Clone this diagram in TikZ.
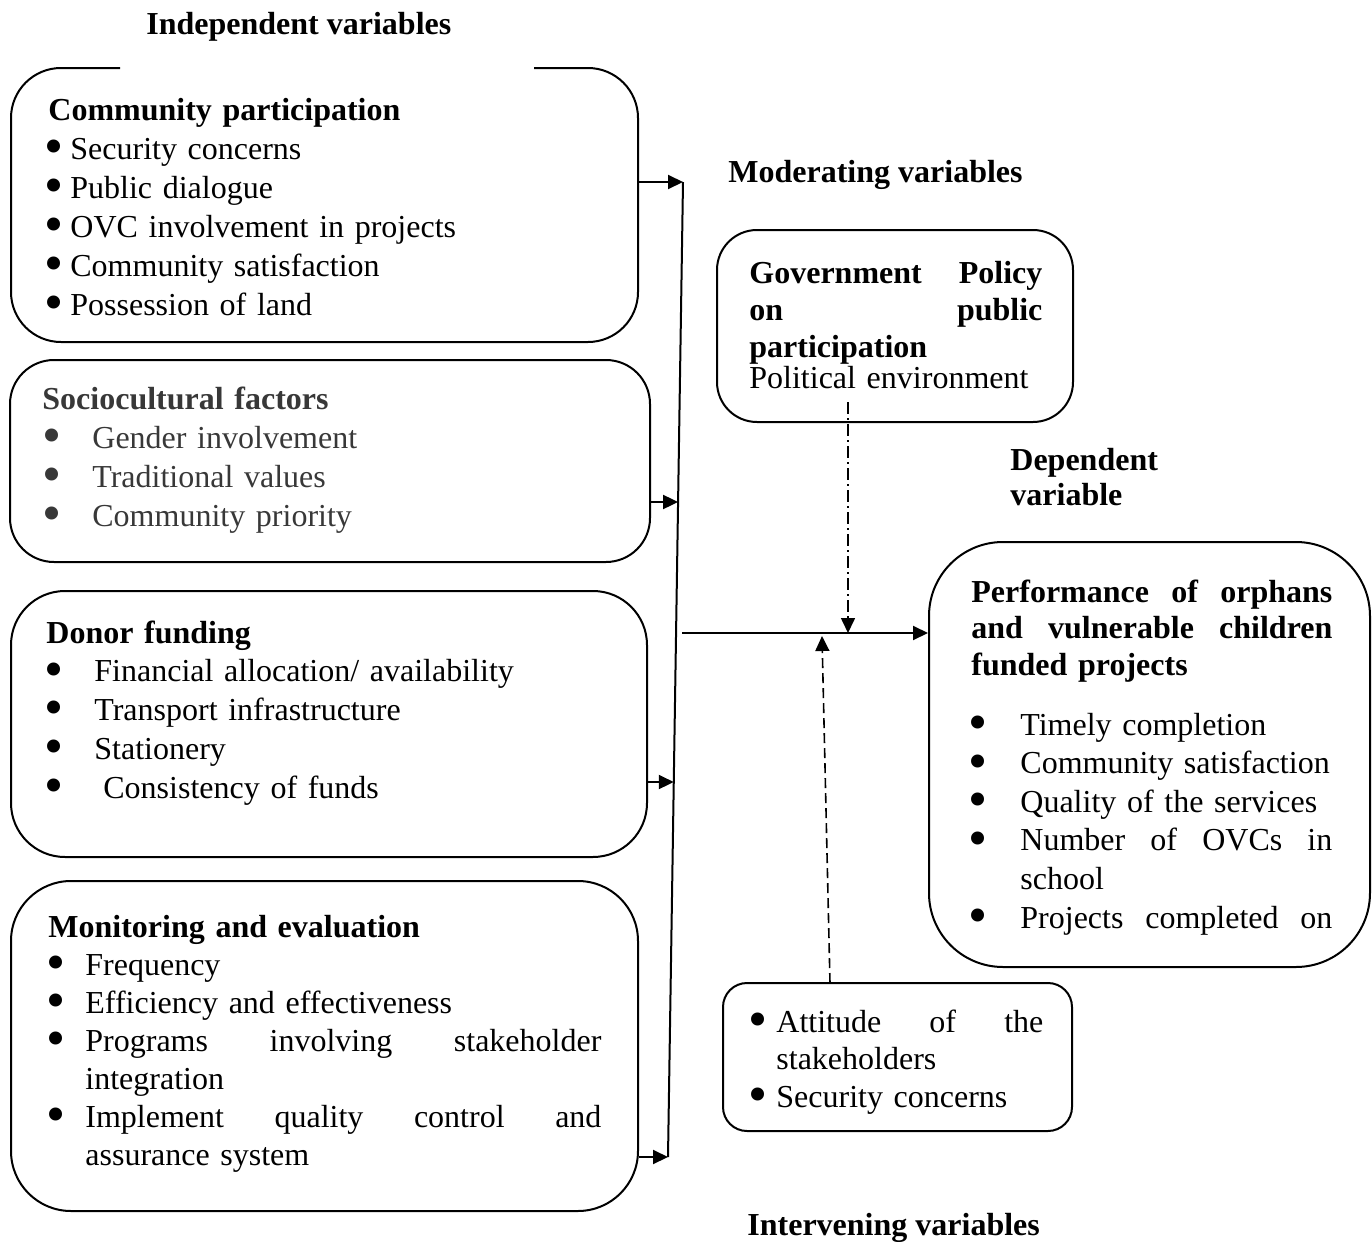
\documentclass[tikz,border=0pt]{standalone}
\usepackage{fontspec}
\setmainfont{Liberation Serif}
\usetikzlibrary{arrows.meta,calc}
\newcommand{\bsym}{\raisebox{-0.17em}{\scalebox{1.7}{\textbullet}}}
% #1 bullet centre offset, #2 text start offset, #3 text
\newcommand{\bl}[3]{\makebox[#2][l]{\hspace*{#1}\makebox[0pt]{\bsym}}#3}
\newcommand{\jl}[2]{\hbox to #1{\spaceskip=0.25em plus 1fil\relax #2}}
\tikzset{
  boxline/.style={draw=black, line width=1pt},
  boxnode/.style={boxline, rectangle, inner sep=0pt},
  txt/.style={inner sep=0pt, anchor=base west, align=left, text width=#1},
  arr/.style={line width=1pt, -{Triangle[length=7.5pt,width=7pt]}},
  bus/.style={line width=1pt},
  dasharr/.style={line width=0.8pt, dash pattern=on 5pt off 2.5pt, -{Triangle[length=7.5pt,width=7pt]}},
  dotdasharr/.style={line width=0.8pt, dash pattern=on 6pt off 2pt on 1pt off 2pt, -{Triangle[length=7.5pt,width=7pt]}},
  lbl/.style={inner sep=0pt, anchor=base west, font=\bfseries\fontsize{16}{19.5}\selectfont}
}
\begin{document}
\begin{tikzpicture}[x=0.5pt,y=-0.5pt]
\useasboundingbox (0,0) rectangle (1372,1242);

% headings
\node[lbl] (lind) at (146,34) {Independent variables};
\node[lbl] (lmod) at (728,182) {Moderating variables};
\node[txt=100pt, font=\bfseries\fontsize{16}{17.5}\selectfont] (ldep) at (1010,470) {Dependent\\variable};
\node[lbl] (lint) at (747,1235) {Intervening variables};

% box 1 (open top edge)
\node[inner sep=0pt, minimum width=313.5pt, minimum height=137pt] (b1) at (324.5,205) {};
\draw[boxline, rounded corners=25pt] (534,68) -- (638,68) -- (638,342) -- (11,342) -- (11,68) -- (120,68);
\node[txt=300pt, font=\fontsize{16}{19.5}\selectfont] (t1) at (48,120) {%
\textbf{Community participation}\\
\bl{3pt}{11pt}{Security concerns}\\
\bl{3pt}{11pt}{Public dialogue}\\
\bl{3pt}{11pt}{OVC involvement in projects}\\
\bl{3pt}{11pt}{Community satisfaction}\\
\bl{3pt}{11pt}{Possession of land}};

% box 2
\node[boxnode, rounded corners=22pt, minimum width=320pt, minimum height=101pt] (b2) at (330,461) {};
\node[txt=300pt, font=\fontsize{16}{19.5}\selectfont, text=black!78] (t2) at (42,409) {%
\textbf{Sociocultural factors}\\
\bl{4.8pt}{25pt}{Gender involvement}\\
\bl{4.8pt}{25pt}{Traditional values}\\
\bl{4.8pt}{25pt}{Community priority}};

% box 3
\node[boxnode, rounded corners=27pt, minimum width=318pt, minimum height=133pt] (b3) at (329,724) {};
\node[txt=300pt, font=\fontsize{16}{19.375}\selectfont] (t3) at (46,643) {%
\textbf{Donor funding}\\
\bl{4pt}{24pt}{Financial allocation/ availability}\\
\bl{4pt}{24pt}{Transport infrastructure}\\
\bl{4pt}{24pt}{Stationery}\\
\bl{4pt}{24pt}{\hspace*{4.5pt}Consistency of funds}};

% box 4
\node[boxnode, rounded corners=30pt, minimum width=313.5pt, minimum height=165pt] (b4) at (324.5,1046) {};
\node[txt=300pt, font=\fontsize{16}{19}\selectfont] (t4) at (48,937) {%
\textbf{Monitoring and evaluation}\\
\bl{4pt}{18.5pt}{Frequency}\\
\bl{4pt}{18.5pt}{Efficiency and effectiveness}\\
\bl{4pt}{18.5pt}{\jl{258pt}{Programs involving stakeholder}}\\
\hspace*{18.5pt}integration\\
\bl{4pt}{18.5pt}{\jl{258pt}{Implement quality control and}}\\
\hspace*{18.5pt}assurance system};

% moderating box
\node[boxnode, rounded corners=20pt, minimum width=178pt, minimum height=96pt] (mod) at (895,326) {};
\node[txt=160pt, font=\fontsize{16}{18.5}\selectfont] (tmod) at (749,283) {%
\textbf{\jl{146.5pt}{Government Policy}}\\
\textbf{\jl{146.5pt}{on public}}\\
\textbf{participation}\\[-3pt]
Political environment};

% performance box
\node[boxnode, rounded corners=37pt, minimum width=220.5pt, minimum height=212.5pt] (perf) at (1149.5,754.5) {};
\node[txt=200pt, font=\fontsize{16}{19.3}\selectfont] (tperf) at (971,602) {%
\textbf{\jl{180.5pt}{Performance of orphans}}\\[-1.05pt]
\textbf{\jl{180.5pt}{and vulnerable children}}\\[-1.05pt]
\textbf{funded projects}\\[10.7pt]
\bl{3.5pt}{24.5pt}{Timely completion}\\
\bl{3.5pt}{24.5pt}{Community satisfaction}\\
\bl{3.5pt}{24.5pt}{Quality of the services}\\
\bl{3.5pt}{24.5pt}{\jl{156pt}{Number of OVCs in}}\\
\hspace*{24.5pt}school\\
\bl{3.5pt}{24.5pt}{\jl{156pt}{Projects completed on}}};

% intervening box
\node[boxnode, rounded corners=12pt, minimum width=174.5pt, minimum height=74pt] (intv) at (897.5,1057) {};
\node[txt=160pt, font=\fontsize{16}{18.75}\selectfont] (tintv) at (749,1032) {%
\bl{4.5pt}{13.5pt}{\jl{133.5pt}{Attitude of the}}\\
\hspace*{13.5pt}stakeholders\\
\bl{4.5pt}{13.5pt}{Security concerns}};

% bus and connectors
\coordinate (vt) at (683,182);
\coordinate (vb) at (668,1157);
\coordinate (j2) at ($(vt)!0.3282!(vb)$);
\coordinate (j3) at ($(vt)!0.6154!(vb)$);
\coordinate (hs) at (682,633);
\draw[bus] (vt) -- (vb);
\draw[arr] (b1.east |- vt) -- (vt);
\draw[arr] (b2.east |- j2) -- (j2);
\draw[arr] (b3.east |- j3) -- (j3);
\draw[arr] (b4.east |- vb) -- (vb);
\draw[arr] (hs) -- (perf.west |- hs);

\coordinate (ms) at (848,402);
\coordinate (me) at (848,633);
\draw[dotdasharr] (ms) -- (me);
\coordinate (is) at (830,983);
\coordinate (ie) at (822,636);
\draw[dasharr] (is) -- (ie);
\end{tikzpicture}
\end{document}
